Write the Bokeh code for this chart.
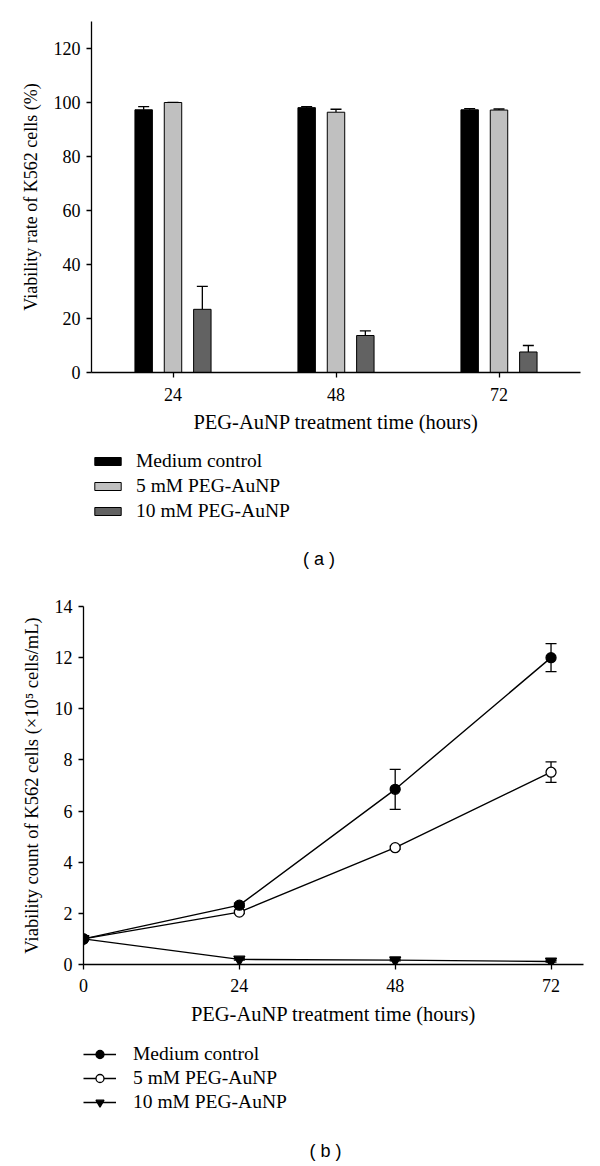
from bokeh.plotting import figure
from bokeh.models import (FactorRange, Range1d, FixedTicker, Whisker, TeeHead,
                          Legend, LegendItem, Label, ColumnDataSource)
from bokeh.transform import dodge
from bokeh.layouts import column, row
from bokeh.embed import file_html
from bokeh.resources import INLINE

# ---------------- data: panel (a) ----------------
hours_a = ["24", "48", "72"]
medium_rate = [97.3, 98.1, 97.3]
medium_rate_err = [1.2, 0.4, 0.4]
peg5_rate = [100.0, 96.4, 97.2]
peg5_rate_err = [0.0, 1.1, 0.4]
peg10_rate = [23.4, 13.7, 7.6]
peg10_rate_err = [8.5, 1.7, 2.4]
y_ticks_a = [0, 20, 40, 60, 80, 100, 120]

# ---------------- data: panel (b) ----------------
hours_b = [0, 24, 48, 72]
medium_count = [1.0, 2.32, 6.85, 12.0]
medium_count_err = [0.05, 0.08, 0.78, 0.55]
peg5_count = [1.0, 2.05, 4.57, 7.52]
peg5_count_err = [0.05, 0.06, 0.06, 0.40]
peg10_count = [1.0, 0.20, 0.17, 0.12]
peg10_count_err = [0.05, 0.03, 0.03, 0.03]
x_ticks_b = [0, 24, 48, 72]
y_ticks_b = [0, 2, 4, 6, 8, 10, 12, 14]

labels = ["Medium control", "5 mM PEG-AuNP", "10 mM PEG-AuNP"]
bar_colors = ["black", "#c0c0c0", "#626262"]

SERIF = "Liberation Serif"
SANS = "Liberation Sans"
NAN = float("nan")  # legend proxies: one empty (NaN) point so nothing is drawn


def style_axes(p, ylab_size):
    for ax in (p.xaxis[0], p.yaxis[0]):
        ax.axis_line_width = 1.3
        ax.axis_line_color = "black"
        ax.major_tick_line_width = 1.3
        ax.major_tick_line_color = "black"
        ax.major_tick_in = 0
        ax.major_tick_out = 5
        ax.minor_tick_line_color = None
        ax.major_label_text_font = SERIF
        ax.major_label_text_font_size = "18px"
        ax.major_label_text_color = "black"
        ax.axis_label_text_font = SERIF
        ax.axis_label_text_font_style = "normal"
        ax.axis_label_text_color = "black"
    p.xaxis[0].axis_label_text_font_size = "20.5px"
    p.yaxis[0].axis_label_text_font_size = ylab_size
    p.grid.visible = False
    p.outline_line_color = None
    p.background_fill_color = "white"
    p.border_fill_color = "white"


def legend_canvas(height, left, top):
    f = figure(width=592, height=height, x_range=Range1d(0, 592 - left),
               y_range=Range1d(0, height - top),
               min_border_left=left, min_border_right=0, min_border_top=top,
               min_border_bottom=0, x_axis_location=None, y_axis_location=None,
               output_backend="svg", toolbar_location=None)
    f.grid.visible = False
    f.outline_line_color = None
    f.background_fill_color = "white"
    f.border_fill_color = "white"
    return f


# ================= panel (a) =================
src_a = ColumnDataSource(dict(
    hours=hours_a,
    medium=medium_rate,
    medium_hi=[v + e for v, e in zip(medium_rate, medium_rate_err)],
    peg5=peg5_rate,
    peg5_hi=[v + e for v, e in zip(peg5_rate, peg5_rate_err)],
    peg10=peg10_rate,
    peg10_hi=[v + e for v, e in zip(peg10_rate, peg10_rate_err)],
))

pa = figure(x_range=FactorRange(*hours_a, range_padding=0), y_range=Range1d(0, 130),
            width=592, height=440,
            min_border_left=91, min_border_right=12, min_border_top=21, min_border_bottom=68,
            output_backend="svg", toolbar_location=None)

off = 0.18
bw = 0.107
series_a = [("medium", -off), ("peg5", 0.0), ("peg10", off)]
for (key, dx), col in zip(series_a, bar_colors):
    pa.vbar(x=dodge("hours", dx, range=pa.x_range), top=key, width=bw, source=src_a,
            fill_color=col, line_color="black", line_width=1)
    w = Whisker(base=dodge("hours", dx, range=pa.x_range), upper=key + "_hi", lower=key,
                source=src_a, dimension="height", line_color="black", line_width=1.3,
                upper_head=TeeHead(size=11, line_color="black", line_width=1.3),
                lower_head=None)
    pa.add_layout(w)

pa.yaxis[0].ticker = FixedTicker(ticks=y_ticks_a)
pa.xaxis.axis_label = "PEG-AuNP treatment time (hours)"
pa.yaxis.axis_label = "Viability rate of K562 cells (%)"
style_axes(pa, "18px")
pa.xaxis.major_label_standoff = 10
pa.xaxis.axis_label_standoff = 7
pa.yaxis.major_label_standoff = 6
pa.yaxis.axis_label_standoff = 10

# legend canvas for (a)
la = legend_canvas(138, 91, 9)
leg_rend_a = [la.vbar(x=[NAN], top=[NAN], width=1, fill_color=c, line_color="black",
                      line_width=1)
              for c in bar_colors]
leg_a = Legend(items=[LegendItem(label=l, renderers=[r]) for l, r in zip(labels, leg_rend_a)],
               location="top_left", orientation="vertical",
               glyph_width=33, glyph_height=10, label_standoff=12, spacing=1,
               label_text_font=SERIF, label_text_font_size="19.5px", label_text_color="black",
               padding=0, margin=0, border_line_color=None, background_fill_alpha=0,
               label_height=24)
la.add_layout(leg_a, "center")
la.add_layout(Label(x=233, y=20, text="( a )", text_align="center", text_baseline="middle",
                    text_font=SANS, text_font_size="18px", text_color="black"))

# ================= panel (b) =================
def hi_lo(vals, errs):
    return ([v + e for v, e in zip(vals, errs)], [v - e for v, e in zip(vals, errs)])


m_hi, m_lo = hi_lo(medium_count, medium_count_err)
p5_hi, p5_lo = hi_lo(peg5_count, peg5_count_err)
p10_hi, p10_lo = hi_lo(peg10_count, peg10_count_err)
src_b = ColumnDataSource(dict(
    hours=hours_b,
    medium=medium_count, medium_hi=m_hi, medium_lo=m_lo,
    peg5=peg5_count, peg5_hi=p5_hi, peg5_lo=p5_lo,
    peg10=peg10_count, peg10_hi=p10_hi, peg10_lo=p10_lo,
))

pb = figure(x_range=Range1d(0, 77), y_range=Range1d(0, 14),
            width=592, height=454,
            min_border_left=83, min_border_right=9, min_border_top=28, min_border_bottom=68,
            output_backend="svg", toolbar_location=None)

for key in ("peg10", "peg5", "medium"):
    w = Whisker(base="hours", upper=key + "_hi", lower=key + "_lo", source=src_b,
                dimension="height", line_color="black", line_width=1.3,
                upper_head=TeeHead(size=11, line_color="black", line_width=1.3),
                lower_head=TeeHead(size=11, line_color="black", line_width=1.3))
    pb.add_layout(w)

styles_b = {"peg10": ("inverted_triangle", "black", 11),
            "peg5": ("circle", "white", 10),
            "medium": ("circle", "black", 10)}
for key in ("peg10", "peg5", "medium"):
    marker, fill, size = styles_b[key]
    pb.line(x="hours", y=key, source=src_b, line_color="black", line_width=1.4)
    pb.scatter(x="hours", y=key, source=src_b, marker=marker, size=size,
               fill_color=fill, line_color="black", line_width=1.3)

pb.xaxis[0].ticker = FixedTicker(ticks=x_ticks_b)
pb.yaxis[0].ticker = FixedTicker(ticks=y_ticks_b)
pb.xaxis.axis_label = "PEG-AuNP treatment time (hours)"
pb.yaxis.axis_label = "Viability count of K562 cells (\u00d710\u2075 cells/mL)"
style_axes(pb, "18.5px")
pb.xaxis.major_label_standoff = 9
pb.xaxis.axis_label_standoff = 8
pb.yaxis.major_label_standoff = 6
pb.yaxis.axis_label_standoff = 10

# legend canvas for (b)
lb = legend_canvas(132, 83, 10)
leg_rend_b = []
for key in ("medium", "peg5", "peg10"):
    marker, fill, size = styles_b[key]
    ln = lb.line(x=[NAN], y=[NAN], line_color="black", line_width=1.4)
    sc = lb.scatter(x=[NAN], y=[NAN], marker=marker, size=size, fill_color=fill,
                    line_color="black", line_width=1.3)
    leg_rend_b.append([ln, sc])
leg_b = Legend(items=[LegendItem(label=l, renderers=r) for l, r in zip(labels, leg_rend_b)],
               location="top_left", orientation="vertical",
               glyph_width=33, glyph_height=20, label_standoff=17, spacing=0,
               label_text_font=SERIF, label_text_font_size="19.5px", label_text_color="black",
               padding=0, margin=0, border_line_color=None, background_fill_alpha=0,
               label_height=24)
lb.add_layout(leg_b, "center")
lb.add_layout(Label(x=242, y=14, text="( b )", text_align="center", text_baseline="middle",
                    text_font=SANS, text_font_size="18px", text_color="black"))

layout = column(pa, la, row(pb), row(lb), spacing=0)
open("out.html", "w").write(file_html(layout, INLINE))
